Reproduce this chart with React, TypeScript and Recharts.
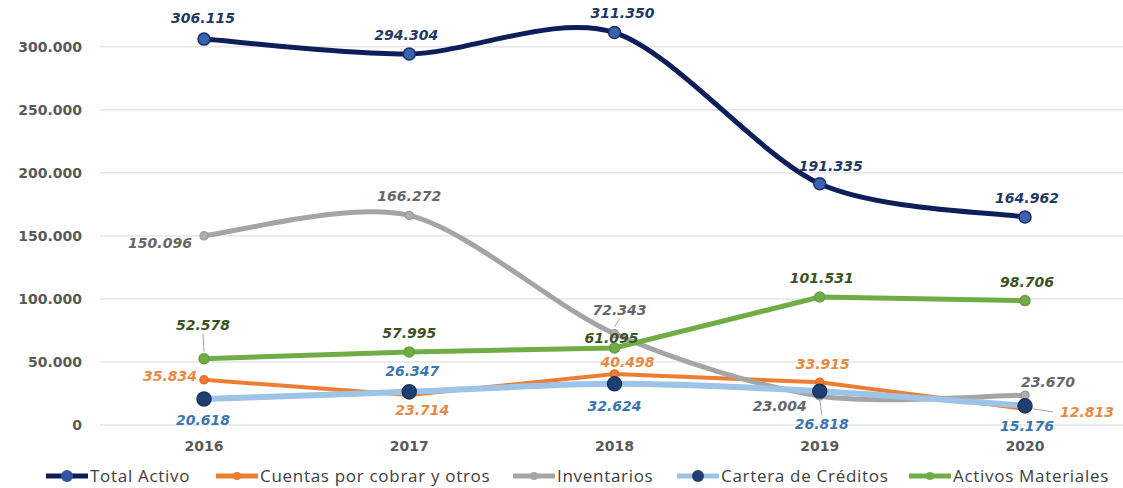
import React from 'react';
import { LineChart, Line, XAxis, YAxis, CartesianGrid, Legend } from 'recharts';

const years = ['2016', '2017', '2018', '2019', '2020'];
const totalActivo = [306115, 294304, 311350, 191335, 164962];
const cuentasPorCobrar = [35834, 23714, 40498, 33915, 12813];
const inventarios = [150096, 166272, 72343, 23004, 23670];
const carteraCreditos = [20618, 26347, 32624, 26818, 15176];
const activosMateriales = [52578, 57995, 61095, 101531, 98706];
const yTicks = [0, 50000, 100000, 150000, 200000, 250000, 300000];

const data = years.map((year, i) => ({
  year,
  total: totalActivo[i],
  cuentas: cuentasPorCobrar[i],
  inventarios: inventarios[i],
  cartera: carteraCreditos[i],
  materiales: activosMateriales[i],
}));

// label placement, [dx, dy, leader line?]
const totalOffsets = [[-1, -21], [-3, -19], [8, -20], [11, -18], [2, -19]];
const cuentasOffsets = [[-34, -4], [13, 15], [13, -12], [3, -18], [62, 3, 1]];
const invOffsets = [[-44, 7], [0, -19], [5, -24, 1], [-40, 10], [23, -13]];
const carteraOffsets = [[-1, 21], [3, -21], [0, 22], [2, 33, 1], [2, 20]];
const materialesOffsets = [[-1, -34, 1], [0, -19], [-3, -10], [2, -19], [2, -19]];

const fmt = (v: number) => Math.round(v).toString().replace(/\B(?=(\d{3})+(?!\d))/g, '.');

// Excel-like smoothing (Catmull-Rom style through the points)
function smoothCurve(context: any) {
  let pts: number[][] = [];
  return {
    areaStart() {},
    areaEnd() {},
    lineStart() { pts = []; },
    point(x: number, y: number) { pts.push([+x, +y]); },
    lineEnd() {
      if (!pts.length) return;
      context.moveTo(pts[0][0], pts[0][1]);
      const t = 0.145;
      for (let i = 0; i < pts.length - 1; i++) {
        const p0 = pts[i - 1] || pts[i];
        const p1 = pts[i];
        const p2 = pts[i + 1];
        const p3 = pts[i + 2] || p2;
        context.bezierCurveTo(
          p1[0] + (p2[0] - p0[0]) * t, p1[1] + (p2[1] - p0[1]) * t,
          p2[0] - (p3[0] - p1[0]) * t, p2[1] - (p3[1] - p1[1]) * t,
          p2[0], p2[1]
        );
      }
    },
  };
}

const makeLabel = (color: string, offsets: number[][]) => (props: any) => {
  const { x, y, index, value } = props;
  if (x == null || y == null) return null;
  const [dx, dy, leader] = offsets[index] || [0, -18];
  const lx = x + dx;
  const ly = y + dy;
  return (
    <g key={`lbl-${index}`}>
      {leader ? (
        <line
          x1={dx > 30 ? lx - 34 : lx}
          y1={dx > 30 ? ly : dy < 0 ? ly + 9 : ly - 9}
          x2={x + (dx > 30 ? 8 : 0)}
          y2={y + (dx > 30 ? 0 : dy < 0 ? -7 : 7)}
          stroke="#a6a6a6"
          strokeWidth={1}
        />
      ) : null}
      <text
        x={lx}
        y={ly}
        textAnchor="middle"
        dominantBaseline="central"
        fill={color}
        fontFamily="DejaVu Sans"
        fontWeight="bold"
        fontStyle="italic"
        fontSize={14}
      >
        {fmt(value)}
      </text>
    </g>
  );
};

const legendItems = [
  { name: 'Total Activo', line: '#0e1e5b', dot: '#2f56a0', r: 6, left: 45 },
  { name: 'Cuentas por cobrar y otros', line: '#ed7d31', dot: '#ed7d31', r: 4, left: 215 },
  { name: 'Inventarios', line: '#a5a5a5', dot: '#a5a5a5', r: 4, left: 512 },
  { name: 'Cartera de Créditos', line: '#9dc3e6', dot: '#1f3f73', r: 6, left: 676 },
  { name: 'Activos Materiales', line: '#70ad47', dot: '#70ad47', r: 4, left: 908 },
];

const renderLegend = () => (
  <div
    style={{
      position: 'relative',
      height: 35,
      fontFamily: 'Open Sans',
      fontSize: 17,
      letterSpacing: 0.7,
      color: '#404040',
    }}
  >
    {legendItems.map((it) => (
      <div
        key={it.name}
        style={{ position: 'absolute', left: it.left, top: 11, display: 'flex', alignItems: 'center', whiteSpace: 'nowrap' }}
      >
        <svg width={44} height={16}>
          <line x1={1} y1={8} x2={43} y2={8} stroke={it.line} strokeWidth={5} />
          <circle cx={22} cy={8} r={it.r} fill={it.dot} />
        </svg>
        <span style={{ marginLeft: 1 }}>{it.name}</span>
      </div>
    ))}
  </div>
);

const Dot = (fill: string, stroke: string, r: number) => (props: any) => {
  const { cx, cy, index } = props;
  if (cx == null || cy == null) return null;
  return <circle key={`d-${index}`} cx={cx} cy={cy} r={r} fill={fill} stroke={stroke} strokeWidth={1.5} />;
};

export default function App() {
  return (
    <div style={{ position: 'absolute', left: 0, top: 0, width: 1123, height: 488, background: '#fff' }}>
      <LineChart width={1123} height={488} data={data} margin={{ top: 9, right: 0, left: 0, bottom: 0 }}>
        <CartesianGrid vertical={false} stroke="#d9d9d9" horizontalValues={yTicks} />
        <XAxis
          dataKey="year"
          axisLine={false}
          tickLine={false}
          tickSize={0}
          tickMargin={16}
          height={28}
          padding={{ left: 104, right: 98 }}
          tick={{ fill: '#595959', fontSize: 14, fontWeight: 'bold', fontFamily: 'DejaVu Sans' }}
        />
        <YAxis
          domain={[0, 330000]}
          ticks={yTicks}
          width={100}
          axisLine={false}
          tickLine={false}
          tickSize={0}
          tickMargin={18}
          tickFormatter={fmt}
          tick={{ fill: '#595959', fontSize: 14, fontWeight: 'bold', fontFamily: 'DejaVu Sans' }}
        />
        <Legend verticalAlign="bottom" height={35} content={renderLegend} />
        <Line
          dataKey="total"
          name="Total Activo"
          type={smoothCurve as any}
          stroke="#0e1e5b"
          strokeWidth={5}
          dot={Dot('#3a62ad', '#17306f', 6)}
          label={makeLabel('#1f3864', totalOffsets)}
          isAnimationActive={false}
        />
        <Line
          dataKey="cuentas"
          name="Cuentas por cobrar y otros"
          type="linear"
          stroke="#ed7d31"
          strokeWidth={4}
          dot={Dot('#ed7d31', '#e07020', 4)}
          label={makeLabel('#e58a44', cuentasOffsets)}
          isAnimationActive={false}
        />
        <Line
          dataKey="inventarios"
          name="Inventarios"
          type={smoothCurve as any}
          stroke="#a5a5a5"
          strokeWidth={5}
          dot={Dot('#b0b0b0', '#9a9a9a', 4)}
          label={makeLabel('#666666', invOffsets)}
          isAnimationActive={false}
        />
        <Line
          dataKey="cartera"
          name="Cartera de Créditos"
          type={smoothCurve as any}
          stroke="#9dc3e6"
          strokeWidth={6}
          dot={Dot('#1f3f73', '#1a355f', 7)}
          label={makeLabel('#3a76b0', carteraOffsets)}
          isAnimationActive={false}
        />
        <Line
          dataKey="materiales"
          name="Activos Materiales"
          type="linear"
          stroke="#70ad47"
          strokeWidth={5}
          dot={Dot('#70ad47', '#64a03c', 5)}
          label={makeLabel('#3b5323', materialesOffsets)}
          isAnimationActive={false}
        />
      </LineChart>
    </div>
  );
}
